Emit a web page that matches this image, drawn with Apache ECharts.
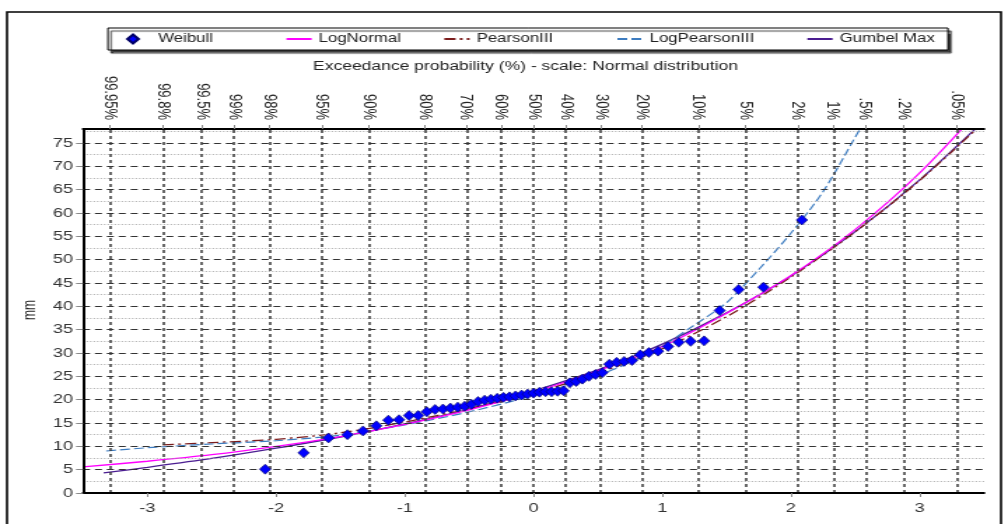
<!DOCTYPE html>
<html>
<head>
<meta charset="utf-8">
<script src="https://cdn.jsdelivr.net/npm/echarts@6.0.0/dist/echarts.min.js"></script>
<style>
  html, body { margin: 0; padding: 0; background: #fff; overflow: hidden; }
  /* chart is laid out narrow, then widened horizontally */
  #chart { width: 720px; height: 524px; transform: scaleX(1.4); transform-origin: 0 0; }
</style>
</head>
<body>
<div id="chart"></div>
<script>
// ---- data ----
// Standard normal variate (x) of each observation and its depth in mm
const weibullZ = [-2.085, -1.786, -1.593, -1.446, -1.325, -1.221, -1.128, -1.045, -0.967, -0.896,
  -0.829, -0.765, -0.704, -0.646, -0.589, -0.535, -0.482, -0.431, -0.380, -0.331,
  -0.282, -0.234, -0.187, -0.140, -0.093, -0.046, 0.000, 0.046, 0.093, 0.140,
  0.187, 0.234, 0.282, 0.331, 0.380, 0.431, 0.482, 0.535, 0.589, 0.646,
  0.704, 0.765, 0.829, 0.896, 0.967, 1.045, 1.128, 1.221, 1.325, 1.446,
  1.593, 1.786, 2.085];
const weibullMm = [5.1, 8.6, 11.8, 12.5, 13.3, 14.4, 15.6, 15.7, 16.6, 16.6,
  17.4, 17.9, 18.0, 18.2, 18.4, 18.6, 19.0, 19.6, 19.9, 20.1,
  20.3, 20.5, 20.6, 20.8, 21.0, 21.2, 21.4, 21.6, 21.7, 21.7,
  21.8, 21.9, 23.6, 23.9, 24.4, 25.0, 25.4, 25.8, 27.6, 28.0,
  28.2, 28.4, 29.6, 30.1, 30.4, 31.4, 32.3, 32.5, 32.6, 39.1,
  43.6, 44.1, 58.5];

const logNormalZ  = [-3.5, -3, -2.5, -2, -1.5, -1, -0.5, 0, 0.5, 1, 1.5, 2, 2.5, 3, 3.5];
const logNormalMm = [5.6, 6.8, 8.2, 10.0, 12.1, 14.7, 17.8, 21.6, 26.2, 31.4, 38.5, 46.6, 56.5, 68.6, 83.2];

const pearsonZ  = [-2.88, -2.5, -2, -1.5, -1, -0.5, 0, 0.5, 1, 1.5, 2, 2.5, 3, 3.5];
const pearsonMm = [10.3, 10.8, 11.5, 12.9, 15.2, 18.1, 21.4, 25.7, 30.9, 37.8, 46.3, 56.0, 67.0, 79.5];

const logPearsonZ  = [-3.32, -3, -2.5, -2, -1.5, -1, -0.5, 0, 0.5, 0.75, 1, 1.25, 1.5, 1.75, 2, 2.25, 2.5, 2.6];
const logPearsonMm = [9.0, 9.7, 10.5, 11.2, 12.4, 14.6, 17.4, 20.9, 25.2, 28.0, 31.5, 36.0, 40.8, 47.9, 55.7, 64.6, 76.3, 81.0];

const gumbelZ  = [-3.34, -3, -2.5, -2, -1.5, -1, -0.5, 0, 0.5, 1, 1.5, 2, 2.5, 3, 3.5];
const gumbelMm = [4.3, 5.5, 7.4, 9.6, 12.0, 14.8, 18.0, 21.9, 26.4, 31.9, 38.6, 46.5, 56.0, 67.1, 79.8];

// axis ticks
const zTicks = [-3, -2, -1, 0, 1, 2, 3];
const mmTicks = [0, 5, 10, 15, 20, 25, 30, 35, 40, 45, 50, 55, 60, 65, 70, 75];
const mmMinorGrid = [2.5, 7.5, 12.5, 17.5, 22.5, 27.5, 32.5, 37.5, 42.5, 47.5, 52.5, 57.5, 62.5, 67.5, 72.5, 77.5];
const probZ = [-3.291, -2.878, -2.576, -2.326, -2.054, -1.645, -1.282, -0.842, -0.524, -0.253, 0,
  0.253, 0.524, 0.842, 1.282, 1.645, 2.054, 2.326, 2.576, 2.878, 3.291];
const probLabels = ['99.95%', '99.8%', '99.5%', '99%', '98%', '95%', '90%', '80%', '70%', '60%', '50%',
  '40%', '30%', '20%', '10%', '5%', '2%', '1%', '.5%', '.2%', '.05%'];

const FONT = 'Liberation Sans, Arial, sans-serif';
const pairs = (xs, ys) => xs.map((x, i) => [x, ys[i]]);

function probLabel(v) {
  for (let i = 0; i < probZ.length; i++) {
    if (Math.abs(probZ[i] - v) < 1e-6) return probLabels[i];
  }
  return '';
}

const chart = echarts.init(document.getElementById('chart'));

const legendBase = {
  top: 33, padding: 0, itemGap: 0, selectedMode: false,
  itemWidth: 18, itemHeight: 10,
  itemStyle: { opacity: 0 },
  textStyle: { fontFamily: FONT, fontSize: 12, color: '#222' }
};

chart.setOption({
  animation: false,
  graphic: [
    { type: 'rect', z: 0, silent: true,
      shape: { x: 5, y: 12, width: 710, height: 530 },
      style: { fill: 'none', stroke: '#000', lineWidth: 1.6 } },
    { type: 'rect', z: 1, silent: true,
      shape: { x: 77.1, y: 28, width: 600, height: 22 },
      style: { fill: '#fff', stroke: '#000', lineWidth: 1,
               shadowColor: 'rgba(0,0,0,0.75)', shadowOffsetX: 2.2, shadowOffsetY: 3, shadowBlur: 1 } },
    { type: 'text', z: 2, silent: true, x: 375.4, y: 67,
      style: { text: 'Exceedance probability (%) - scale: Normal distribution',
               font: '12.5px ' + FONT, fill: '#222', textAlign: 'center', textVerticalAlign: 'middle' } },
    { type: 'text', z: 2, silent: true, x: 21.4, y: 310, rotation: Math.PI / 2,
      style: { text: 'mm', font: '12px ' + FONT, fill: '#222', textAlign: 'center', textVerticalAlign: 'middle' } }
  ],
  legend: [
    Object.assign({}, legendBase, { data: ['Weibull'], left: 90, itemWidth: 8, itemHeight: 9,
      itemStyle: { opacity: 1 },
      textStyle: { fontFamily: FONT, fontSize: 12, color: '#222', padding: [0, 0, 0, 9] } }),
    Object.assign({}, legendBase, { data: ['LogNormal'], left: 203.6 }),
    Object.assign({}, legendBase, { data: ['PearsonIII'], left: 316.4 }),
    Object.assign({}, legendBase, { data: ['LogPearsonIII'], left: 440 }),
    Object.assign({}, legendBase, { data: ['Gumbel Max'], left: 575.7 })
  ],
  grid: { left: 59.3, right: 17.1, top: 129, bottom: 31, containLabel: false },
  xAxis: [
    { type: 'value', position: 'bottom', min: -3.5, max: 3.5, z: 10,
      axisLine: { show: true, onZero: false, lineStyle: { color: '#000', width: 2 } },
      axisTick: { show: true, customValues: zTicks, length: 4, lineStyle: { color: '#888' } },
      axisLabel: { customValues: zTicks, margin: 9, fontSize: 13, color: '#333', fontFamily: FONT },
      splitLine: { show: false } },
    { type: 'value', position: 'top', min: -3.5, max: 3.5, z: 10,
      axisLine: { show: true, onZero: false, lineStyle: { color: '#000', width: 2 } },
      axisTick: { show: true, customValues: probZ, length: 4, lineStyle: { color: '#888' } },
      axisLabel: { customValues: probZ, rotate: 90, margin: 9, fontSize: 13, color: '#222',
                   fontFamily: FONT, formatter: probLabel },
      splitLine: { show: false } }
  ],
  yAxis: {
    type: 'value', min: 0, max: 78, z: 10,
    axisLine: { show: true, onZero: false, lineStyle: { color: '#000', width: 2 } },
    axisTick: { show: true, customValues: mmTicks, length: 5, lineStyle: { color: '#888' } },
    axisLabel: { customValues: mmTicks, margin: 7, fontSize: 13, color: '#333', fontFamily: FONT },
    splitLine: { show: false }
  },
  series: [
    { name: 'gridMinor', type: 'line', data: [], z: 1, silent: true,
      markLine: { silent: true, symbol: ['none', 'none'], label: { show: false }, animation: false,
        lineStyle: { color: '#a8a8a8', width: 1, type: [1, 1.5] },
        emphasis: { disabled: true },
        data: mmMinorGrid.map(v => ({ yAxis: v })) } },
    { name: 'gridMajor', type: 'line', data: [], z: 1, silent: true,
      markLine: { silent: true, symbol: ['none', 'none'], label: { show: false }, animation: false,
        lineStyle: { color: '#333', width: 1.2, type: [5, 3.5] },
        emphasis: { disabled: true },
        data: mmTicks.filter(v => v > 0).map(v => ({ yAxis: v })) } },
    { name: 'gridProb', type: 'line', data: [], z: 1, silent: true,
      markLine: { silent: true, symbol: ['none', 'none'], label: { show: false }, animation: false,
        lineStyle: { color: '#3a3a3a', width: 1.5, type: [3, 3] },
        emphasis: { disabled: true },
        data: probZ.map(v => ({ xAxis: v })) } },
    { name: 'Gumbel Max', type: 'line', z: 3, symbol: 'none', smooth: 0.3,
      data: pairs(gumbelZ, gumbelMm),
      itemStyle: { color: '#4b1d91' }, lineStyle: { color: '#4b1d91', width: 1.3 } },
    { name: 'PearsonIII', type: 'line', z: 3, symbol: 'none', smooth: 0.3,
      data: pairs(pearsonZ, pearsonMm),
      itemStyle: { color: '#7b1c1c' }, lineStyle: { color: '#7b1c1c', width: 1.3, type: [8, 3, 2, 3] } },
    { name: 'LogPearsonIII', type: 'line', z: 3, symbol: 'none', smooth: 0.3,
      data: pairs(logPearsonZ, logPearsonMm),
      itemStyle: { color: '#3d7cc0' }, lineStyle: { color: '#3d7cc0', width: 1.2, type: [7, 3] } },
    { name: 'LogNormal', type: 'line', z: 4, symbol: 'none', smooth: 0.3,
      data: pairs(logNormalZ, logNormalMm),
      itemStyle: { color: '#ff00ff' }, lineStyle: { color: '#ff00ff', width: 1.3 } },
    { name: 'Weibull', type: 'scatter', z: 5, symbol: 'diamond', symbolSize: [8, 10],
      data: pairs(weibullZ, weibullMm),
      itemStyle: { color: '#0000ff', borderColor: '#000066', borderWidth: 0.6, opacity: 1 } }
  ]
});
</script>
</body>
</html>
